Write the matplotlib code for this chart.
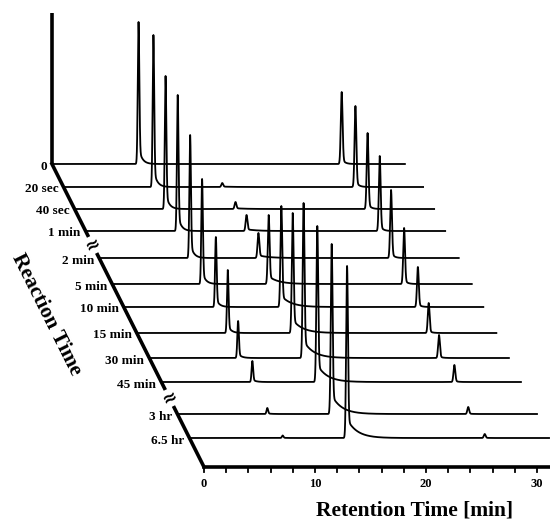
import numpy as np
import matplotlib
matplotlib.use("Agg")
import matplotlib.pyplot as plt

# one chromatogram per reaction time
reaction_labels = ["0", "20 sec", "40 sec", "1 min", "2 min", "5 min", "10 min",
                   "15 min", "30 min", "45 min", "3 hr", "6.5 hr"]

# peak near 8 min (starting material), heights in arbitrary units
sm_rt = [7.8, 8.1, 8.2, 8.3, 8.2, 8.1, 8.3, 8.2, 8.0, 8.2, 8.1, 8.4]
sm_height = [142, 152, 133, 136, 123, 105, 70, 63, 37, 21, 6, 2.5]

# product peak near 14 min
prod_rt = [14.2, 14.3, 14.5, 14.5, 14.35, 14.1, 14.2, 14.05, 13.9, 14.05, 13.9, 14.2]
prod_height = [0, 4, 7, 16, 25, 69, 101, 120, 155, 156, 170, 172]

# late peak near 26 min
late_rt = [26.1, 26.3, 26.4, 26.5, 26.3, 26.3, 26.5, 26.3, 26.1, 26.4, 26.2, 26.6]
late_height = [72, 81, 76, 75, 68, 56, 40, 30, 23, 17, 7, 4]

run_end = [31.8] + [32.4] * 11
x_ticks = list(range(0, 32, 2))
x_labels = [0, 10, 20, 30]

# --- layout of the waterfall (depth offset of each trace, shear along depth) ---
depth = [303, 280, 258, 236, 209, 183, 160, 134, 109, 85, 53, 29]
break_depths = [222, 69]
shear = 0.0452          # minutes of x shift per unit of depth
px_per_min = 11.1
back_axis_len = 151

SERIF = "Liberation Serif"


def peak(t, rt, h, sigma, tail, tau):
    z = t - rt
    g = np.exp(-0.5 * (z / sigma) ** 2)
    right = (1 - tail) * g + tail * np.exp(-np.clip(z, 0, None) / tau)
    return h * np.where(z < 0, g, right)


fig = plt.figure(figsize=(5.5, 5.21), dpi=100)
ax = fig.add_axes([0, 0, 1, 1])
ax.set_xlim(-204 / px_per_min, 346 / px_per_min)
ax.set_ylim(-54, 467)
ax.axis("off")

for i, lab in enumerate(reaction_labels):
    t = np.arange(0, run_end[i], 0.005)
    sig = (peak(t, sm_rt[i], sm_height[i], 0.07, 0.12, 0.3)
           + peak(t, prod_rt[i], prod_height[i], 0.08, 0.11, 0.9)
           + peak(t, late_rt[i], late_height[i], 0.08, 0.08, 0.25))
    x0 = -depth[i] * shear
    ax.plot(t + x0, depth[i] + sig, color="black", lw=1.3, zorder=3)
    ax.text(x0 - 0.45, depth[i] - 2.5, lab, ha="right", va="center",
            fontsize=9.5, fontweight="bold", family=SERIF)

# axes: back vertical, oblique depth axis, bottom time axis
d0 = depth[0]
ax.plot([-d0 * shear, -d0 * shear], [d0, d0 + back_axis_len],
        color="black", lw=2.6, solid_capstyle="butt", zorder=4)
ax.plot([-d0 * shear, 0], [d0, 0], color="black", lw=2.6, zorder=4)
ax.plot([0, ax.get_xlim()[1]], [0, 0], color="black", lw=2.6, zorder=4)

for xt in x_ticks:
    ax.plot([xt, xt], [0, -5], color="black", lw=1.3, zorder=4)
for xl in x_labels:
    ax.text(xl, -17, str(xl), ha="center", va="center", fontsize=9,
            fontweight="bold", family=SERIF)

# axis breaks
for bd in break_depths:
    ax.text(-bd * shear, bd, "\u2248", ha="center", va="center", fontsize=13,
            fontweight="bold", rotation=26.6, zorder=5,
            bbox=dict(boxstyle="square,pad=0.0", fc="white", ec="none"))

ax.text(19.0, -43, "Retention Time [min]", ha="center", va="center",
        fontsize=15.5, fontweight="bold", family=SERIF)
ax.text(-14.2, 152, "Reaction Time", ha="center", va="center",
        fontsize=15.5, fontweight="bold", family=SERIF, rotation=-63.4)

fig.savefig("out.png", dpi=100)
